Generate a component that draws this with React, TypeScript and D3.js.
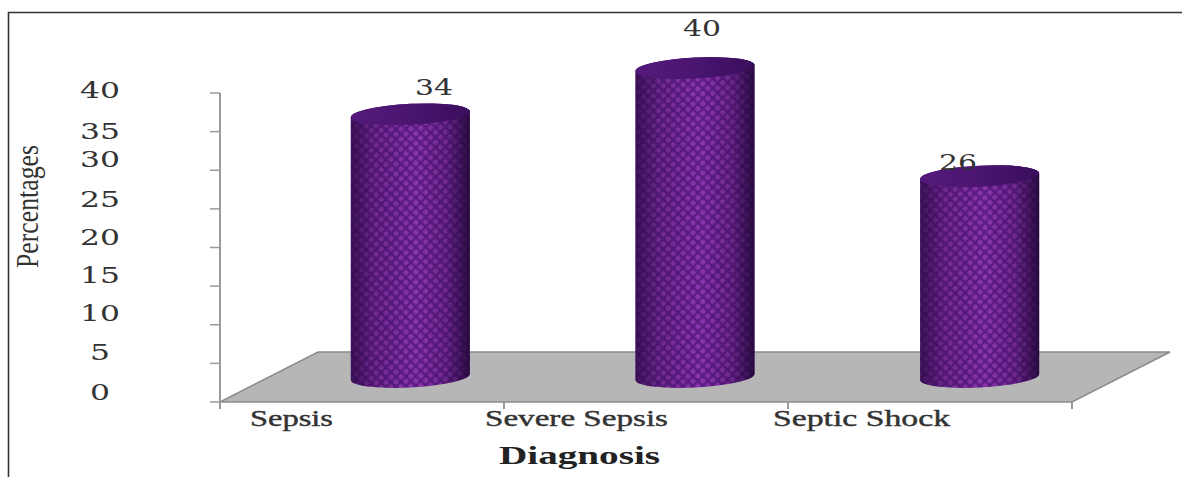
import React from "react";
import * as d3 from "d3";

const categories = ["Sepsis", "Severe Sepsis", "Septic Shock"];
const percentages = [34, 40, 26];
const axisTicks = [0, 5, 10, 15, 20, 25, 30, 35, 40];
// Vertical offset of each printed tick number above its tick mark.
const tickLabelLift = [10, 11, 12, 11, 11, 10, 11, 1, 3];
// Left edge and printed width of each category label.
const categoryLabelX = [250, 485, 773];
const categoryLabelWidth = [83, 183, 177];
// Data label centres.
const valueLabelX = [434, 702, 958];
const valueLabelY = [87, 28, 162];

const W = 1182;
const H = 477;
const FLOOR_DEPTH_X = 98;
const FLOOR_DEPTH_Y = 50;
const COLUMN_SHIFT_Y = 25;
const COLUMN_RY = 10.5;
const COLUMN_TILT = -2.8;

const y = d3.scaleLinear().domain([0, 40]).range([402, 93]);
const x = d3.scaleBand<string>().domain(categories).range([268, 1122]).paddingInner(0);
const frontAxis = d3.scaleLinear().domain([0, categories.length]).range([220, 1072]);
const columnWidth = 119;

const serif = "'Liberation Serif', serif";
const numberFont = "'DejaVu Serif', serif";

function columnPath(cx: number, top: number, bottom: number) {
  const r = columnWidth / 2;
  return `M${cx - r},${top} L${cx - r},${bottom} A${r},${COLUMN_RY} 0 0 0 ${cx + r},${bottom} L${cx + r},${top} A${r},${COLUMN_RY} 0 0 0 ${cx - r},${top} Z`;
}

export default function App() {
  const base = y.range()[0];
  const left = frontAxis(0);
  const right = frontAxis(categories.length);
  const floor = d3.line()([
    [left, base],
    [left + FLOOR_DEPTH_X, base - FLOOR_DEPTH_Y],
    [right + FLOOR_DEPTH_X, base - FLOOR_DEPTH_Y],
    [right, base],
  ]) + "Z";

  return (
    <svg
      width={W}
      height={H}
      viewBox={`0 0 ${W} ${H}`}
      style={{ position: "absolute", left: 0, top: 0, background: "#fff" }}
    >
      <defs>
        <pattern id="weave" width="7" height="7" patternUnits="userSpaceOnUse" patternTransform="rotate(45)">
          <rect width="7" height="7" fill="#5f1c86" />
          <rect x="1" y="1" width="5" height="5" rx="2" fill="#8a36ad" />
        </pattern>
        <linearGradient id="roundness" x1="0" x2="1" y1="0" y2="0">
          <stop offset="0" stopColor="#2c0a45" stopOpacity="0.8" />
          <stop offset="0.2" stopColor="#2c0a45" stopOpacity="0.3" />
          <stop offset="0.55" stopColor="#2c0a45" stopOpacity="0" />
          <stop offset="0.8" stopColor="#2c0a45" stopOpacity="0.3" />
          <stop offset="1" stopColor="#1f0633" stopOpacity="0.9" />
        </linearGradient>
        <linearGradient id="cap" x1="0" x2="1" y1="0" y2="0">
          <stop offset="0" stopColor="#551a7c" />
          <stop offset="0.5" stopColor="#4a1570" />
          <stop offset="1" stopColor="#3a0e5c" />
        </linearGradient>
      </defs>

      {/* Frame */}
      <path d={`M8.5,${H} L8.5,12.5 L${W},12.5`} fill="none" stroke="#333" strokeWidth={1.6} />

      {/* Floor */}
      <path d={floor} fill="#b6b6b6" stroke="#8c8c8c" strokeWidth={1.5} />

      {/* Value axis */}
      <line x1={left} x2={left} y1={y(40)} y2={base + 7} stroke="#9a9a9a" strokeWidth={2} />
      {axisTicks.map((t) => (
        <line key={t} x1={left - 10} x2={left} y1={y(t)} y2={y(t)} stroke="#9a9a9a" strokeWidth={1.5} />
      ))}

      {/* Category axis ticks along the front edge of the floor */}
      {d3.range(1, categories.length + 1).map((k) => (
        <line key={k} x1={frontAxis(k)} x2={frontAxis(k)} y1={base} y2={base + 7} stroke="#9a9a9a" strokeWidth={2} />
      ))}

      {axisTicks.map((t, i) => (
        <text
          key={t}
          x={120}
          y={y(t) - tickLabelLift[i] + 8}
          textAnchor="end"
          fontFamily={numberFont}
          fontSize={23}
          fill="#333"
          textLength={t < 10 ? 20 : 40}
          lengthAdjust="spacingAndGlyphs"
          dx={t < 10 ? -10 : 0}
        >
          {t}
        </text>
      ))}

      <text
        transform="translate(38,268) rotate(-90)"
        fontFamily={serif}
        fontSize={31}
        fill="#333"
        textLength={123}
        lengthAdjust="spacingAndGlyphs"
      >
        Percentages
      </text>

      {/* Columns */}
      {categories.map((c, i) => {
        const cx = (x(c) as number) + x.bandwidth() / 2;
        const top = y(percentages[i]) - COLUMN_SHIFT_Y;
        const bottom = base - COLUMN_SHIFT_Y;
        const d = columnPath(cx, top, bottom);
        // Each end of the column is sheared about its own centre, so the rims slope upward to the right.
        const shear = `translate(${cx},0) skewY(${COLUMN_TILT}) translate(${-cx},0)`;
        return (
          <g key={c} transform={shear}>
            <path d={d} fill="url(#weave)" />
            <path d={d} fill="url(#roundness)" />
            <ellipse cx={cx} cy={top} rx={columnWidth / 2} ry={COLUMN_RY} fill="url(#cap)" />
          </g>
        );
      })}

      {/* Value labels */}
      {percentages.map((v, i) => (
        <text
          key={categories[i]}
          x={valueLabelX[i]}
          y={valueLabelY[i] + 8}
          textAnchor="middle"
          fontFamily={numberFont}
          fontSize={23}
          fill="#333"
          textLength={38}
          lengthAdjust="spacingAndGlyphs"
        >
          {v}
        </text>
      ))}

      {/* Category labels */}
      {categories.map((c, i) => (
        <text
          key={c}
          x={categoryLabelX[i]}
          y={426}
          fontFamily={serif}
          fontSize={23}
          fill="#333"
          textLength={categoryLabelWidth[i]}
          lengthAdjust="spacingAndGlyphs"
          stroke="#333"
          strokeWidth={0.4}
        >
          {c}
        </text>
      ))}

      <text
        x={499}
        y={464}
        fontFamily={serif}
        fontSize={26}
        fontWeight={700}
        fill="#222"
        textLength={161}
        lengthAdjust="spacingAndGlyphs"
      >
        Diagnosis
      </text>
    </svg>
  );
}
